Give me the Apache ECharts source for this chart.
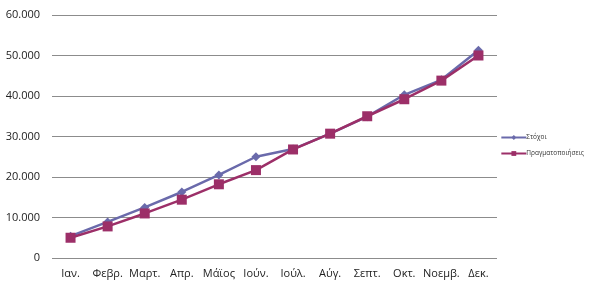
<!DOCTYPE html>
<html>
<head>
<meta charset="utf-8">
<script src="https://cdn.jsdelivr.net/npm/echarts@6/dist/echarts.min.js"></script>
<style>
  html, body { margin: 0; padding: 0; background: #fff; }
  #chart { width: 595px; height: 283px; }
</style>
</head>
<body>
<div id="chart"></div>
<script>
const months = ['Ιαν.', 'Φεβρ.', 'Μαρτ.', 'Απρ.', 'Μάϊος', 'Ιούν.', 'Ιούλ.', 'Αύγ.', 'Σεπτ.', 'Οκτ.', 'Νοεμβ.', 'Δεκ.'];
const targets = [5400, 8900, 12500, 16300, 20500, 25000, 26900, 30700, 34900, 40300, 44000, 51300];
const actuals = [5000, 7800, 11000, 14400, 18200, 21700, 26800, 30700, 35000, 39200, 43800, 50000];
const yTicks = [0, 10000, 20000, 30000, 40000, 50000, 60000];

const chart = echarts.init(document.getElementById('chart'));
const font = '"Open Sans", "Noto Sans", sans-serif';

function fmt(v) {
  return v === 0 ? '0' : (v / 1000).toFixed(0) + '.000';
}

chart.setOption({
  animation: false,
  grid: { left: 52, right: 98, top: 15, bottom: 25 },
  legend: {
    orient: 'vertical',
    right: 6,
    top: 129,
    itemWidth: 25,
    itemHeight: 6,
    itemGap: 9,
    textStyle: { fontSize: 6.5, fontFamily: font, color: '#333', padding: [0, 0, 0, -5] },
    data: ['Στόχοι', 'Πραγματοποιήσεις']
  },
  xAxis: {
    type: 'category',
    data: months,
    boundaryGap: true,
    axisLine: { show: false },
    axisTick: { show: false },
    axisLabel: { fontSize: 11, fontFamily: font, color: '#222', margin: 10, interval: 0 }
  },
  yAxis: {
    type: 'value',
    min: 0,
    max: yTicks[yTicks.length - 1],
    interval: 10000,
    axisLine: { show: false },
    axisTick: { show: false },
    splitLine: { lineStyle: { color: '#8c8c8c', width: 1 } },
    axisLabel: { fontSize: 11, fontFamily: font, color: '#222', margin: 12, formatter: fmt }
  },
  series: [
    {
      name: 'Στόχοι',
      type: 'line',
      data: targets,
      symbol: 'diamond',
      symbolSize: 9,
      itemStyle: { color: '#6a6aab' },
      lineStyle: { color: '#6a6aab', width: 2.5 }
    },
    {
      name: 'Πραγματοποιήσεις',
      type: 'line',
      data: actuals,
      symbol: 'rect',
      symbolSize: 10,
      itemStyle: { color: '#9c2f68' },
      lineStyle: { color: '#9c2f68', width: 2.5 }
    }
  ]
});
</script>
</body>
</html>
